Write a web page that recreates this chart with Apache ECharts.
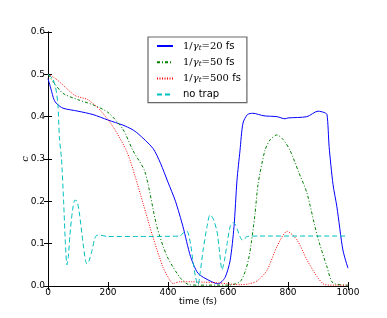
<!DOCTYPE html>
<html><head><meta charset="utf-8">
<script src="https://cdn.jsdelivr.net/npm/echarts@6/dist/echarts.min.js"></script>
<style>html,body{margin:0;padding:0;background:#fff}#c{width:387px;height:318px}</style>
</head><body><div id="c"></div>
<script>
var xTicks = [0, 200, 400, 600, 800, 1000];
var yTicks = [0.0, 0.1, 0.2, 0.3, 0.4, 0.5, 0.6];
var seriesNames = ['20 fs', '50 fs', '500 fs', 'no trap'];

var blueT = [0,10,20,30,50,100,150,200,250,280,300,350,375,400,425,450,475,500,540,567,590,607,620,630,640,650,665,683,720,763,790,800,863,900,920,930,937,950,963,983,1000];
var blueC = [0.49,0.465,0.44,0.43,0.42,0.413,0.405,0.392,0.38,0.37,0.36,0.325,0.29,0.245,0.2,0.14,0.07,0.03,0.012,0.005,0.02,0.06,0.14,0.25,0.32,0.385,0.405,0.408,0.402,0.4,0.395,0.397,0.4,0.413,0.41,0.405,0.33,0.24,0.187,0.085,0.042];

var greenT = [0,20,50,100,150,200,250,283,323,363,397,440,470,500,600,640,660,673,690,700,723,740,763,785,807,835,863,897,930,950,1000];
var greenC = [0.50,0.48,0.455,0.44,0.428,0.41,0.37,0.32,0.27,0.14,0.07,0.02,0.003,0.002,0.002,0.01,0.04,0.08,0.17,0.24,0.32,0.345,0.357,0.345,0.32,0.27,0.22,0.12,0.045,0.007,0.002];

var redT = [0,25,57,90,133,173,217,263,290,317,350,383,405,417,440,480,520,560,600,640,670,697,730,763,797,830,863,897,923,960,1000];
var redC = [0.50,0.49,0.47,0.45,0.44,0.416,0.376,0.317,0.26,0.195,0.115,0.045,0.015,0.006,0.01,0.01,0.009,0.008,0.005,0.003,0.005,0.012,0.037,0.093,0.129,0.109,0.062,0.022,0.003,0.002,0.002];

var cyanT = [0,15,25,33,38,45,52,58,63,68,73,82,90,97,105,117,125,130,137,147,155,163,175,197,300,440,450,463,475,483,492,500,507,517,530,540,550,563,572,580,588,597,607,617,625,633,647,655,663,700,1000];
var cyanC = [0.50,0.49,0.47,0.43,0.35,0.30,0.2,0.1,0.05,0.07,0.12,0.18,0.203,0.2,0.17,0.10,0.06,0.052,0.06,0.085,0.11,0.12,0.12,0.117,0.117,0.118,0.125,0.13,0.1,0.06,0.02,0.003,0.03,0.085,0.14,0.168,0.16,0.13,0.08,0.038,0.06,0.1,0.14,0.15,0.145,0.13,0.109,0.11,0.117,0.118,0.118];

function zip(a, b) { return a.map(function (v, i) { return [v, b[i]]; }); }

var chart = echarts.init(document.getElementById('c'), null, {renderer: 'canvas'});
var fontFam = 'DejaVu Sans';
var axisCommon = {
  type: 'value', min: 0, splitLine: {show: false},
  axisLine: {show: true, lineStyle: {color: '#000', width: 1}},
  axisTick: {show: true, inside: true, length: 4, lineStyle: {color: '#000'}},
  nameMoveOverlap: false
};
function mkLine(name, t, c, color, type, width) {
  return {
    name: name, type: 'line', data: zip(t, c), showSymbol: false, symbol: 'none',
    smooth: 0.25, lineStyle: {color: color, type: type, width: width}, itemStyle: {color: color},
    xAxisIndex: 0, yAxisIndex: 0, animation: false
  };
}
chart.setOption({
  animation: false,
  grid: {left: 48, right: 39, top: 32, bottom: 32, show: false},
  xAxis: [
    Object.assign({}, axisCommon, {max: 1000, interval: 200, position: 'bottom',
      name: 'time (fs)', nameLocation: 'middle', nameGap: 11,
      nameTextStyle: {fontFamily: fontFam, fontSize: 9, color: '#000'},
      axisLabel: {fontFamily: fontFam, fontSize: 9, color: '#000', margin: 2,
        formatter: function (v) { return String(v); }}}),
    Object.assign({}, axisCommon, {max: 1000, interval: 200, position: 'top', axisLabel: {show: false}})
  ],
  yAxis: [
    Object.assign({}, axisCommon, {max: 0.6, interval: 0.1, position: 'left',
      name: 'c', nameLocation: 'middle', nameGap: 18, nameRotate: 90,
      nameTextStyle: {fontFamily: 'DejaVu Serif', fontStyle: 'italic', fontSize: 10, color: '#000'},
      axisLabel: {fontFamily: fontFam, fontSize: 9, color: '#000', margin: 3,
        formatter: function (v) { return v.toFixed(1); }}}),
    Object.assign({}, axisCommon, {max: 0.6, interval: 0.1, position: 'right', axisLabel: {show: false}})
  ],
  legend: {
    orient: 'vertical', left: 148, top: 37,
    data: seriesNames,
    backgroundColor: '#fff', borderColor: '#666', borderWidth: 1.2,
    padding: [4, 6, 3, 8], itemWidth: 16, itemHeight: 12, itemGap: 5.7,
    itemStyle: {opacity: 0, borderWidth: 0},
    textStyle: {fontFamily: fontFam, fontSize: 10, color: '#000', padding: [0, 0, 0, 5],
      rich: {
        n: {fontFamily: 'DejaVu Serif', fontSize: 10, color: '#000'},
        g: {fontFamily: 'DejaVu Serif', fontStyle: 'italic', fontSize: 10, color: '#000'},
        s: {fontFamily: 'DejaVu Serif', fontStyle: 'italic', fontSize: 7, color: '#000', verticalAlign: 'bottom', padding: [4, 0, 0, 0]},
        f: {fontFamily: fontFam, fontSize: 10, color: '#000'}
      }},
    formatter: function (name) {
      if (name === 'no trap') return '{f|no trap}';
      var p = name.split(' ');
      return '{n|1/}{g|γ}{s|t}{n|=' + p[0] + '}{f| fs}';
    }
  },
  series: [
    mkLine(seriesNames[0], blueT, blueC, '#0000ff', 'solid', 1),
    mkLine(seriesNames[1], greenT, greenC, '#008000', [3, 2, 1, 2], 1),
    mkLine(seriesNames[2], redT, redC, '#ff0000', [1, 1.5], 1),
    mkLine(seriesNames[3], cyanT, cyanC, '#00bfbf', [5, 3], 1)
  ]
});
</script></body></html>
